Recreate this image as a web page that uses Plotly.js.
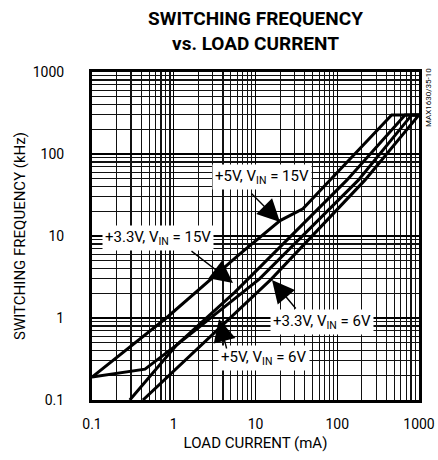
<!DOCTYPE html>
<html><head><meta charset="utf-8">
<script src="https://cdn.plot.ly/plotly-3.0.1.min.js"></script>
<style>html,body{margin:0;padding:0;background:#fff}</style>
</head><body><div id="chart" style="width:438px;height:460px"></div>
<script>
// Axis ticks
const tickVals = [0.1, 1, 10, 100, 1000];
const tickText = ['0.1', '1', '10', '100', '1000'];

// Curve data: load current (mA) vs switching frequency (kHz)
const i5v15 = [0.1, 0.81, 6.4, 20, 38, 463, 1000];
const f5v15 = [0.19, 1.0, 6.0, 15.4, 21.5, 300, 300];

const i33v15 = [0.1, 0.445, 1.09, 2.1, 5.6, 131, 675, 1000];
const f33v15 = [0.19, 0.238, 0.47, 0.85, 2.07, 48, 300, 300];

const i5v6 = [0.29, 1.09, 2.1, 11.2, 181, 815, 1000];
const f5v6 = [0.1, 0.47, 0.79, 3.0, 48, 300, 300];

const i33v6 = [0.42, 15.5, 218, 1000];
const f33v6 = [0.1, 2.96, 48, 300];

const seriesNames = ['+5V, VIN = 15V', '+3.3V, VIN = 15V', '+5V, VIN = 6V', '+3.3V, VIN = 6V'];
const labelTexts = ['+5V, V<sub>IN</sub> = 15V', '+3.3V, V<sub>IN</sub> = 15V', '+3.3V, V<sub>IN</sub> = 6V', '+5V, V<sub>IN</sub> = 6V'];

const FONT = 'Roboto, Liberation Sans, sans-serif';

// plot area in pixels (for placing callouts)
const PL = 92, PR = 419, PT = 72, PB = 400;
const px2x = p => (p - PL) / (PR - PL);
const px2y = p => (PB - p) / (PB - PT);

const mk = (x, y, name) => ({
  x: x, y: y, name: name, type: 'scatter', mode: 'lines',
  line: {color: '#000', width: 3}, hoverinfo: 'skip', showlegend: false
});

const data = [
  mk(i5v15, f5v15, seriesNames[0]),
  mk(i33v15, f33v15, seriesNames[1]),
  mk(i5v6, f5v6, seriesNames[2]),
  mk(i33v6, f33v6, seriesNames[3])
];

// label boxes (center px) and arrows (tail px -> tip px)
const labelPos = [[262, 177], [158, 238], [322, 322], [264, 358]];
const arrowDefs = [
  [[250, 192], [280, 222]],
  [[190, 250], [233, 283]],
  [[297, 310], [272, 280]],
  [[227, 350], [219, 319]]
];

const annotations = [];
labelTexts.forEach((t, k) => {
  annotations.push({
    xref: 'paper', yref: 'paper', x: px2x(labelPos[k][0]), y: px2y(labelPos[k][1]),
    xanchor: 'center', yanchor: 'middle',
    text: t, showarrow: false, bgcolor: '#fff', borderpad: 2,
    font: {family: FONT, size: 15, color: '#000'}
  });
});
arrowDefs.forEach(([tail, tip]) => {
  annotations.push({
    xref: 'paper', yref: 'paper', x: px2x(tip[0]), y: px2y(tip[1]),
    ax: tail[0] - tip[0], ay: tail[1] - tip[1], axref: 'pixel', ayref: 'pixel',
    text: '', showarrow: true, arrowhead: 2, arrowsize: 3.2, arrowwidth: 1.4, arrowcolor: '#000'
  });
});
annotations.push({
  xref: 'paper', yref: 'paper', x: px2x(429), y: px2y(98),
  xanchor: 'center', yanchor: 'middle',
  text: 'MAX1630/35-10', textangle: -90, showarrow: false,
  font: {family: FONT, size: 8, color: '#000'}
});

const axisCommon = {
  type: 'log', tickmode: 'array', tickvals: tickVals, ticktext: tickText,
  showgrid: true, gridcolor: '#000', gridwidth: 1.4,
  minor: {dtick: 'D1', showgrid: true, gridcolor: '#111', gridwidth: 1.2, ticks: ''},
  showline: true, linecolor: '#000', linewidth: 3, mirror: true,
  ticks: '', tickfont: {family: FONT, size: 14, color: '#000'},
  zeroline: false
};

const layout = {
  width: 438, height: 460,
  margin: {l: PL, r: 438 - PR, t: PT, b: 460 - PB, pad: 0},
  paper_bgcolor: '#fff', plot_bgcolor: '#fff',
  title: {
    text: '<b>SWITCHING FREQUENCY<br>vs. LOAD CURRENT</b>',
    font: {family: FONT, size: 19, color: '#000'},
    xref: 'paper', x: 0.5, xanchor: 'center',
    yref: 'container', y: 1 - 25 / 460, yanchor: 'middle'
  },
  xaxis: Object.assign({}, axisCommon, {
    range: [-1, 3], ticklabelstandoff: 9,
    title: {text: 'LOAD CURRENT (mA)', font: {family: FONT, size: 15, color: '#000'}, standoff: 7}
  }),
  yaxis: Object.assign({}, axisCommon, {
    range: [-1, 3], ticklabelstandoff: 22,
    title: {text: 'SWITCHING FREQUENCY (kHz)', font: {family: FONT, size: 15, color: '#000'}, standoff: 4}
  }),
  annotations: annotations,
  showlegend: false
};

Plotly.newPlot('chart', data, layout, {staticPlot: true, displayModeBar: false});
</script>
</body></html>
